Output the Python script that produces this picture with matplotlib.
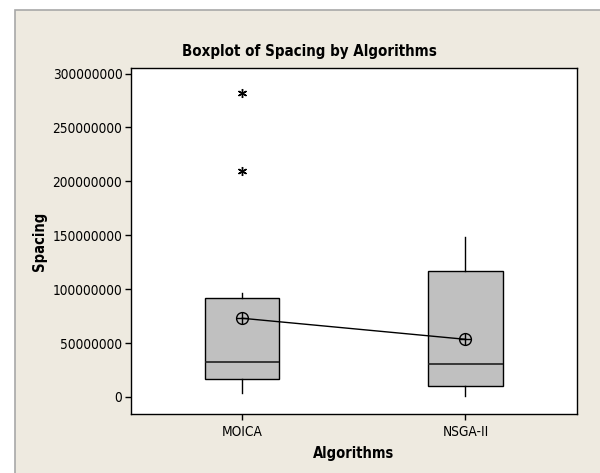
import matplotlib.pyplot as plt
from matplotlib.patches import Rectangle

# Spacing summary per algorithm
algorithms = ["MOICA", "NSGA-II"]
whisker_low = [3.4e6, 0.9e6]
q1 = [16.7e6, 9.9e6]
median = [32.7e6, 30.3e6]
q3 = [91.8e6, 116.9e6]
whisker_high = [96.2e6, 148.7e6]
means = [73.0e6, 53.5e6]
outliers = [[210.0e6, 281.7e6], []]
yticks = [0, 50000000, 100000000, 150000000, 200000000, 250000000, 300000000]

plt.rcParams["font.family"] = ["DejaVu Sans"]
plt.rcParams["font.stretch"] = "condensed"

bg = "#eeeae0"
fig = plt.figure(figsize=(6, 4.73), dpi=100)
fig.patch.set_facecolor("white")
# beige panel with grey border
panel = Rectangle((15 / 600, -0.1), 1.0, 1 - 10 / 473 + 0.1,
                  transform=fig.transFigure, facecolor=bg,
                  edgecolor="#a8a8a8", linewidth=1.2, zorder=-10)
fig.patches.append(panel)

ax = fig.add_axes([130.7 / 600, 1 - 414 / 473, (577 - 130.7) / 600, (414 - 68) / 473])
ax.set_facecolor("white")

stats = []
for i, name in enumerate(algorithms):
    stats.append(dict(label=name, whislo=whisker_low[i], q1=q1[i], med=median[i],
                      q3=q3[i], whishi=whisker_high[i], mean=means[i], fliers=outliers[i]))

pos = list(range(1, len(algorithms) + 1))
ax.bxp(stats, positions=pos, widths=0.333, patch_artist=True, showcaps=False,
       showfliers=True,
       boxprops=dict(facecolor="#c0c0c0", edgecolor="black", linewidth=1.0),
       medianprops=dict(color="#202020", linewidth=1.2),
       whiskerprops=dict(color="black", linewidth=1.0),
       flierprops=dict(marker=(6, 2, 0), markersize=6.5, markeredgecolor="black",
                       markeredgewidth=1.0, linestyle="none"))

# mean connect line and mean symbols
ax.plot(pos, means, color="black", linewidth=1.0, zorder=4)
ax.plot(pos, means, linestyle="none", marker="o", markersize=8.5,
        markerfacecolor="none", markeredgecolor="black", markeredgewidth=1.0, zorder=5)
ax.plot(pos, means, linestyle="none", marker="+", markersize=8.5,
        markeredgecolor="black", markeredgewidth=1.0, zorder=5)

ax.set_xlim(0.5, 2.5)
ax.set_ylim(-15.8e6, 305.2e6)
ax.set_yticks(yticks)
ax.set_yticklabels([str(t) for t in yticks])
ax.set_xticks(pos)
ax.set_xticklabels(algorithms)
ax.tick_params(axis="both", direction="out", length=4, width=1, labelsize=9.8,
               colors="black", pad=2)
ax.tick_params(axis="x", pad=4)
for s in ax.spines.values():
    s.set_color("black")
    s.set_linewidth(1.0)

ax.set_xlabel("Algorithms", fontsize=10.5, fontweight="bold", labelpad=5)
ax.set_ylabel("Spacing", fontsize=10.5, fontweight="bold")
ax.yaxis.set_label_coords((47 - 130.7) / 446.3, 0.5)
fig.text(309 / 600, 1 - 51.7 / 473, "Boxplot of Spacing by Algorithms",
         ha="center", va="center", fontsize=10.8, fontweight="bold")

fig.savefig("out.png", dpi=100, facecolor=fig.get_facecolor())
